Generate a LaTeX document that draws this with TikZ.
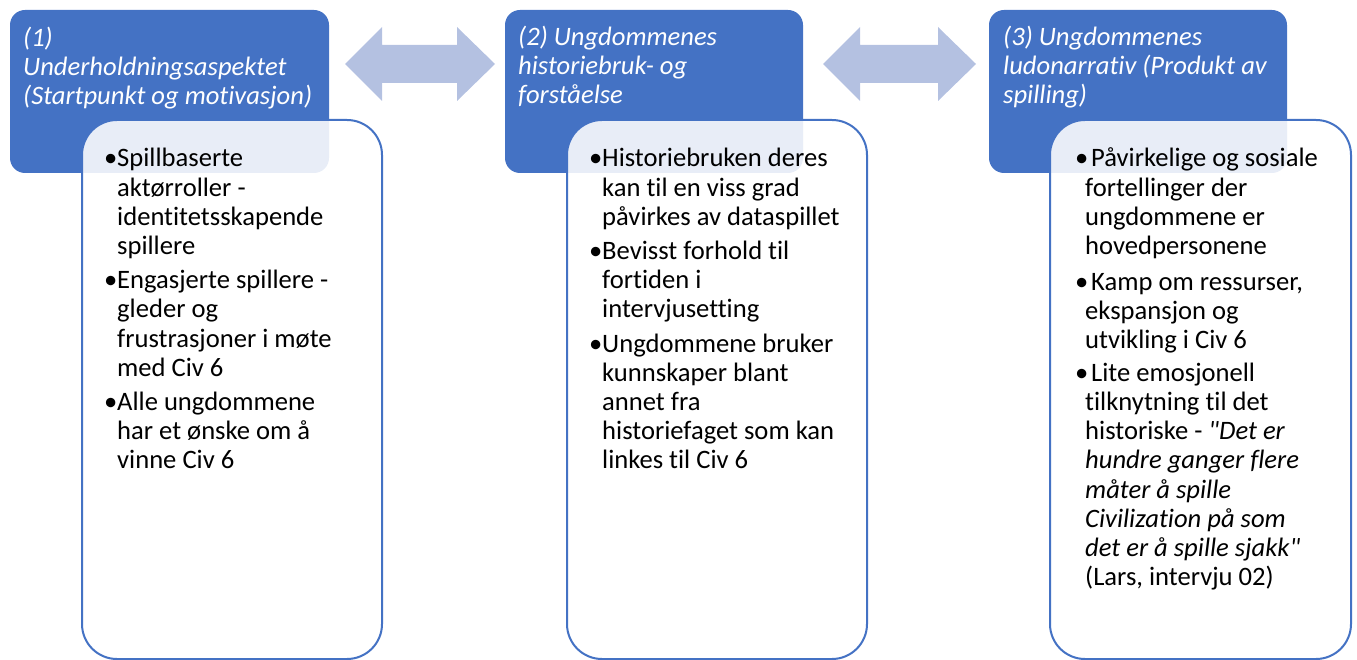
\documentclass[tikz,border=0pt]{standalone}
\usepackage{fontspec}
\setmainfont{Carlito}[Ligatures={TeXOff,NoCommon}]
\definecolor{accblue}{HTML}{4472C4}
\definecolor{arrowblue}{HTML}{B4C1E1}
\newcommand{\bodyfont}{\fontsize{26.6}{29.1}\selectfont}
\newcommand{\headfont}{\fontsize{26.6}{28.7}\selectfont}
\newcommand{\bitemA}{\par\hangindent=13pt\hangafter=1\noindent\makebox[13pt][l]{•}}
\newcommand{\bitemB}{\par\hangindent=13pt\hangafter=1\noindent\makebox[13pt][l]{•}}
\newcommand{\bitemC}{\par\hangindent=10pt\hangafter=1\noindent\makebox[10pt][l]{•}\ }
\newcommand{\sq}{{\char34}}
\begin{document}
\begin{tikzpicture}[x=1pt,y=-1pt,
  bluebox/.style={fill=accblue, rounded corners=15pt, inner sep=0pt, outer sep=0pt, anchor=north west},
  whitebox/.style={draw=accblue, line width=2pt, fill=white, fill opacity=0.88, rounded corners=35pt, inner sep=0pt, outer sep=0pt, anchor=north west},
  titletext/.style={text=white, font=\headfont\itshape, inner sep=0pt, anchor=base west},
  bodytext/.style={text=black, font=\bodyfont, inner sep=0pt, anchor=base west},
  dblarrow/.style={fill=arrowblue, draw=none}]
\useasboundingbox (0,0) rectangle (1357,660);
% header boxes
\node[bluebox, minimum width=319pt, minimum height=163pt] (b1) at (10,10) {};
\node[bluebox, minimum width=298pt, minimum height=163pt] (b2) at (505,10) {};
\node[bluebox, minimum width=298pt, minimum height=163pt] (b3) at (989,10) {};
% titles
\node[titletext] (t1) at (23,47) {\parbox[t]{330pt}{\raggedright (1)\\Underholdningsaspektet\\(Startpunkt og motivasjon)}};
\node[titletext] (t2) at (518,46) {\parbox[t]{320pt}{\raggedright (2) Ungdommenes\\historiebruk- og\\forståelse}};
\node[titletext] (t3) at (1003,46) {\parbox[t]{320pt}{\raggedright (3) Ungdommenes\\ludonarrativ (Produkt av\\spilling)}};
% double arrows
\path[dblarrow] (345,64) -- (382,27) -- (382,45) -- (457,45) -- (457,27) -- (495,64) -- (457,101) -- (457,83) -- (382,83) -- (382,101) -- cycle;
\path[dblarrow] (823,64) -- (860,27) -- (860,45) -- (938,45) -- (938,27) -- (976,64) -- (938,101) -- (938,83) -- (860,83) -- (860,101) -- cycle;
% content boxes
\node[whitebox, minimum width=300pt, minimum height=539pt] (w1) at (82,120) {};
\node[whitebox, minimum width=300pt, minimum height=539pt] (w2) at (567,120) {};
\node[whitebox, minimum width=301pt, minimum height=539pt] (w3) at (1050,120) {};
% body texts
\node[bodytext] (x1) at (104,167) {\parbox[t]{300pt}{\parskip=0pt
\bitemA Spillbaserte\\aktørroller -\\identitetsskapende\\spillere\par\vspace{5.5pt}
\bitemA Engasjerte spillere -\\gleder og\\frustrasjoner i møte\\med Civ 6\par\vspace{5.5pt}
\bitemA Alle ungdommene\\har et ønske om å\\vinne Civ 6\par}};
\node[bodytext] (x2) at (589,167) {\parbox[t]{300pt}{\parskip=0pt
\bitemB Historiebruken deres\\kan til en viss grad\\påvirkes av dataspillet\par\vspace{5.5pt}
\bitemB Bevisst forhold til\\fortiden i\\intervjusetting\par\vspace{5.5pt}
\bitemB Ungdommene bruker\\kunnskaper blant\\annet fra\\historiefaget som kan\\linkes til Civ 6\par}};
\node[bodytext] (x3) at (1075,167) {\parbox[t]{300pt}{\parskip=0pt
\bitemC Påvirkelige og sosiale\\fortellinger der\\ungdommene er\\hovedpersonene\par\vspace{7pt}
\bitemC Kamp om ressurser,\\ekspansjon og\\utvikling i Civ 6\par\vspace{4pt}
\bitemC Lite emosjonell\\tilknytning til det\\historiske - \textit{\sq Det er\\hundre ganger flere\\måter å spille\\Civilization på som\\det er å spille sjakk\sq}\\(Lars, intervju 02)\par}};
\end{tikzpicture}
\end{document}
